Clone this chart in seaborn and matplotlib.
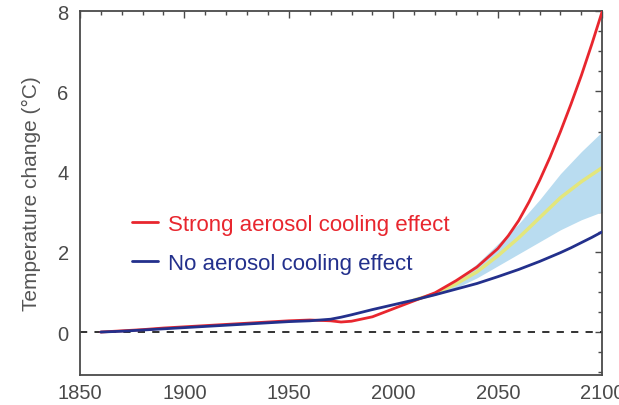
import numpy as np
import pandas as pd
import matplotlib
matplotlib.use("Agg")
import matplotlib.pyplot as plt
from matplotlib.ticker import MultipleLocator
import seaborn as sns

# Values
years = [1860, 1870, 1880, 1890, 1900, 1910, 1920, 1930, 1940, 1950, 1960, 1970,
         1975, 1980, 1990, 2000, 2010, 2020, 2030, 2040, 2050, 2055, 2060, 2065,
         2070, 2075, 2080, 2085, 2090, 2095, 2100]
no_aerosol = [0.0, 0.02, 0.05, 0.08, 0.11, 0.14, 0.17, 0.20, 0.23, 0.26, 0.28, 0.32,
              0.37, 0.43, 0.56, 0.68, 0.80, 0.93, 1.07, 1.21, 1.38, 1.47, 1.56, 1.66,
              1.76, 1.87, 1.98, 2.10, 2.23, 2.36, 2.50]
strong_aerosol = [0.0, 0.03, 0.06, 0.10, 0.13, 0.16, 0.19, 0.22, 0.25, 0.28, 0.30, 0.28,
                  0.25, 0.27, 0.38, 0.58, 0.78, 0.98, 1.28, 1.62, 2.08, 2.40, 2.78, 3.25,
                  3.78, 4.36, 5.00, 5.68, 6.40, 7.18, 8.00]

band_years = [2010, 2020, 2030, 2040, 2050, 2060, 2070, 2080, 2090, 2100]
band_mid = [0.80, 0.95, 1.20, 1.50, 1.90, 2.35, 2.85, 3.35, 3.75, 4.10]
band_low = [0.80, 0.92, 1.10, 1.35, 1.65, 1.95, 2.25, 2.55, 2.80, 3.00]
band_high = [0.82, 1.00, 1.30, 1.70, 2.20, 2.70, 3.30, 3.95, 4.50, 5.00]

lab_strong = "Strong aerosol cooling effect"
lab_none = "No aerosol cooling effect"

df = pd.DataFrame({
    "year": years + years,
    "temp": strong_aerosol + no_aerosol,
    "scenario": [lab_strong] * len(years) + [lab_none] * len(years),
})
band = pd.DataFrame({"year": band_years, "mid": band_mid})

sns.set_style("white")
plt.rcParams["font.family"] = ["Liberation Sans", "DejaVu Sans"]

red = "#e8262e"
blue = "#23308c"
grey = "#4a4a4a"

fig = plt.figure(figsize=(6.19, 4.06), dpi=100)
ax = fig.add_axes([0.129, 0.074, 0.844, 0.896])

ax.fill_between(band_years, band_low, band_high, color="#b9dcf0", lw=0, zorder=1)
sns.lineplot(data=band, x="year", y="mid", color="#e3e67c", lw=2.5, ax=ax, zorder=2)
ax.axhline(0, color="#222222", lw=1.3, ls=(0, (4, 4)), zorder=1)
sns.lineplot(data=df, x="year", y="temp", hue="scenario",
             palette={lab_strong: red, lab_none: blue}, lw=2, ax=ax, zorder=3)

ax.set_xlim(1850, 2100)
ax.set_ylim(-1.07, 8)
ax.xaxis.set_major_locator(MultipleLocator(50))
ax.xaxis.set_minor_locator(MultipleLocator(10))
ax.yaxis.set_major_locator(MultipleLocator(2))
ax.yaxis.set_minor_locator(MultipleLocator(0.5))
ax.tick_params(which="both", direction="in", top=True, right=True,
               color=grey, labelcolor=grey, labelsize=14.5)
ax.tick_params(which="major", length=5, width=1)
ax.tick_params(which="minor", length=3, width=1)
ax.tick_params(axis="x", pad=6)
ax.tick_params(axis="y", pad=8)
for s in ax.spines.values():
    s.set_color(grey)
    s.set_linewidth(1.3)

ax.set_xlabel("")
ax.set_ylabel("Temperature change (°C)", color="#555555", fontsize=15)
ax.yaxis.set_label_coords(-0.074, 0.5)

leg = ax.legend(loc="upper left", bbox_to_anchor=(0.0996, 0.442), frameon=False,
                fontsize=16, handlelength=1.17, handletextpad=0.45,
                labelspacing=0.78, borderpad=0, borderaxespad=0,
                labelcolor="linecolor")

fig.savefig("out.png", dpi=100)
